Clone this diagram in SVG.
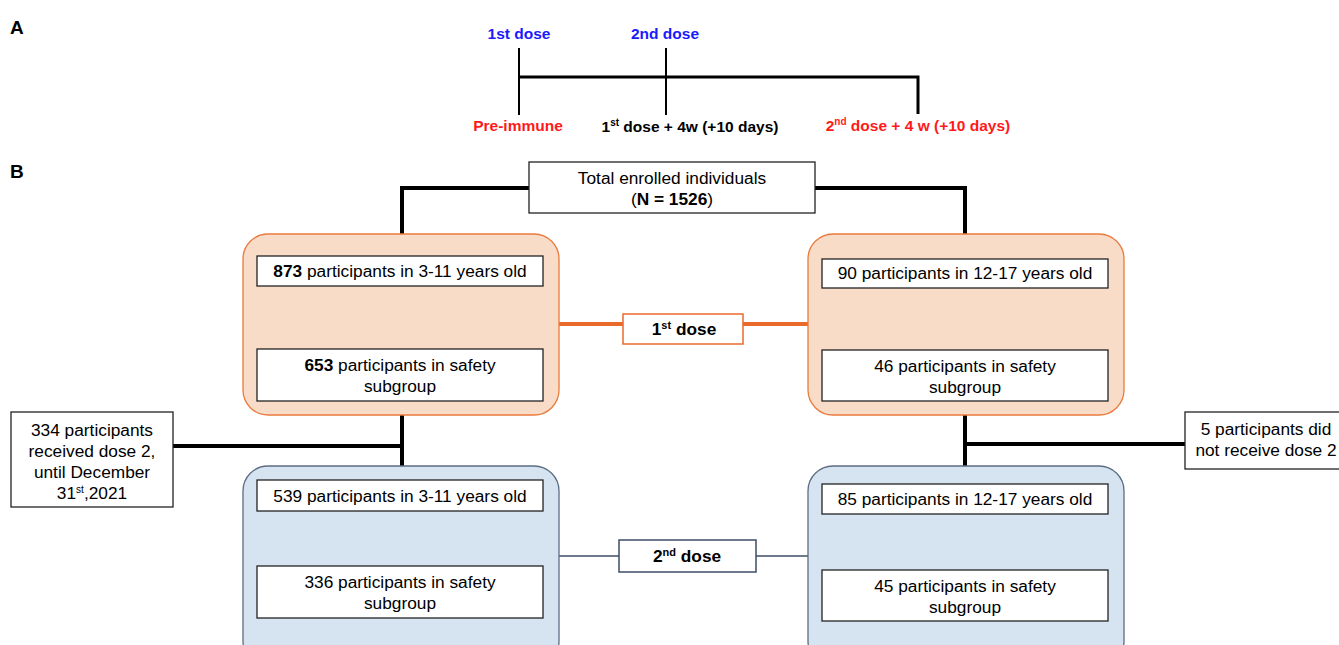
<svg xmlns="http://www.w3.org/2000/svg" width="1339" height="645" viewBox="0 0 1339 645">
<style>
text{font-family:"Liberation Sans",Arial,sans-serif;fill:#000}
.t{font-size:17.3px;text-anchor:middle}
.h{font-size:15.5px;font-weight:bold;text-anchor:middle}
.lbl{font-size:19px;font-weight:bold}
.blue{fill:#1a1aff}
.red{fill:#ff1a1a}
.b{font-weight:bold}
.inner{fill:#fff;stroke:#222;stroke-width:1.3}
.orange{fill:#f8dcc8;stroke:#ea7a3c;stroke-width:1.3}
.bluebox{fill:#d6e4f2;stroke:#5c6c82;stroke-width:1.3}
.thick{fill:none;stroke:#000;stroke-width:4}
.tl{fill:none;stroke:#000;stroke-width:2}
</style>

<g id="panelA">
<text x="10" y="34" class="lbl">A</text>
<text x="519" y="39" class="h blue">1st dose</text>
<text x="665" y="39" class="h blue">2nd dose</text>
<g id="timeline">
<line x1="519" y1="48" x2="519" y2="115" class="tl"/>
<line x1="666" y1="48" x2="666" y2="115" class="tl"/>
<polyline points="519,77 918,77 918,114" fill="none" stroke="#000" stroke-width="3"/>
</g>
<text x="518" y="131" class="h red">Pre-immune</text>
<text x="690" y="132" class="h">1<tspan font-size="10" dy="-6">st</tspan><tspan dy="6"> dose + 4w (+10 days)</tspan></text>
<text x="918" y="131" class="h red">2<tspan font-size="10" dy="-6">nd</tspan><tspan dy="6"> dose + 4 w (+10 days)</tspan></text>
</g>

<text x="10" y="178" class="lbl">B</text>

<g id="connectors">
<polyline points="529,188 402,188 402,234" class="thick"/>
<polyline points="815,188 965,188 965,234" class="thick"/>
<line x1="559" y1="324" x2="623" y2="324" stroke="#ea6a2c" stroke-width="4"/>
<line x1="743" y1="324" x2="808" y2="324" stroke="#ea6a2c" stroke-width="4"/>
<line x1="402" y1="415" x2="402" y2="466" class="thick"/>
<line x1="173" y1="446" x2="402" y2="446" class="thick"/>
<line x1="965" y1="415" x2="965" y2="466" class="thick"/>
<line x1="965" y1="444" x2="1185" y2="444" class="thick"/>
<line x1="559" y1="556" x2="619" y2="556" stroke="#3e4e66" stroke-width="1.3"/>
<line x1="756" y1="556" x2="808" y2="556" stroke="#3e4e66" stroke-width="1.3"/>
</g>

<g id="total">
<rect x="529" y="162" width="286" height="51" class="inner"/>
<text x="672" y="184" class="t">Total enrolled individuals</text>
<text x="672" y="205" class="t">(<tspan class="b">N = 1526</tspan>)</text>
</g>

<g id="group-3-11-dose1">
<rect x="243" y="234" width="316" height="181" rx="25" class="orange"/>
<rect x="257" y="256" width="286" height="30" class="inner"/>
<text x="400" y="277" class="t"><tspan class="b">873</tspan> participants in 3-11 years old</text>
<rect x="257" y="349" width="286" height="52" class="inner"/>
<text x="400" y="371" class="t"><tspan class="b">653</tspan> participants in safety</text>
<text x="400" y="392" class="t">subgroup</text>
</g>

<g id="group-12-17-dose1">
<rect x="808" y="234" width="316" height="181" rx="25" class="orange"/>
<rect x="822" y="259" width="286" height="29" class="inner"/>
<text x="965" y="279" class="t">90 participants in 12-17 years old</text>
<rect x="822" y="350" width="286" height="51" class="inner"/>
<text x="965" y="372" class="t">46 participants in safety</text>
<text x="965" y="393" class="t">subgroup</text>
</g>

<g id="dose1">
<rect x="623" y="314" width="120" height="30" fill="#fff" stroke="#ea6a2c" stroke-width="1.5"/>
<text x="684" y="335" class="t b">1<tspan font-size="11" dy="-6">st</tspan><tspan dy="6"> dose</tspan></text>
</g>

<g id="received-dose2">
<rect x="11" y="412" width="162" height="95" class="inner"/>
<text x="92" y="436" class="t">334 participants</text>
<text x="92" y="457" class="t">received dose 2,</text>
<text x="92" y="478" class="t">until December</text>
<text x="92" y="499" class="t">31<tspan font-size="10" dy="-6">st</tspan><tspan dy="6">,2021</tspan></text>
</g>

<g id="not-received">
<rect x="1185" y="412" width="160" height="57" class="inner"/>
<text x="1266" y="435" class="t">5 participants did</text>
<text x="1266" y="456" class="t">not receive dose 2</text>
</g>

<g id="group-3-11-dose2">
<rect x="243" y="466" width="316" height="200" rx="25" class="bluebox"/>
<rect x="257" y="480" width="286" height="31" class="inner"/>
<text x="400" y="502" class="t">539 participants in 3-11 years old</text>
<rect x="257" y="566" width="286" height="52" class="inner"/>
<text x="400" y="588" class="t">336 participants in safety</text>
<text x="400" y="609" class="t">subgroup</text>
</g>

<g id="group-12-17-dose2">
<rect x="808" y="466" width="316" height="200" rx="25" class="bluebox"/>
<rect x="822" y="484" width="286" height="30" class="inner"/>
<text x="965" y="505" class="t">85 participants in 12-17 years old</text>
<rect x="822" y="570" width="286" height="51" class="inner"/>
<text x="965" y="592" class="t">45 participants in safety</text>
<text x="965" y="613" class="t">subgroup</text>
</g>

<g id="dose2">
<rect x="619" y="540" width="137" height="32" fill="#fff" stroke="#3e4e66" stroke-width="1.5"/>
<text x="687" y="562" class="t b">2<tspan font-size="11" dy="-6">nd</tspan><tspan dy="6"> dose</tspan></text>
</g>
</svg>
